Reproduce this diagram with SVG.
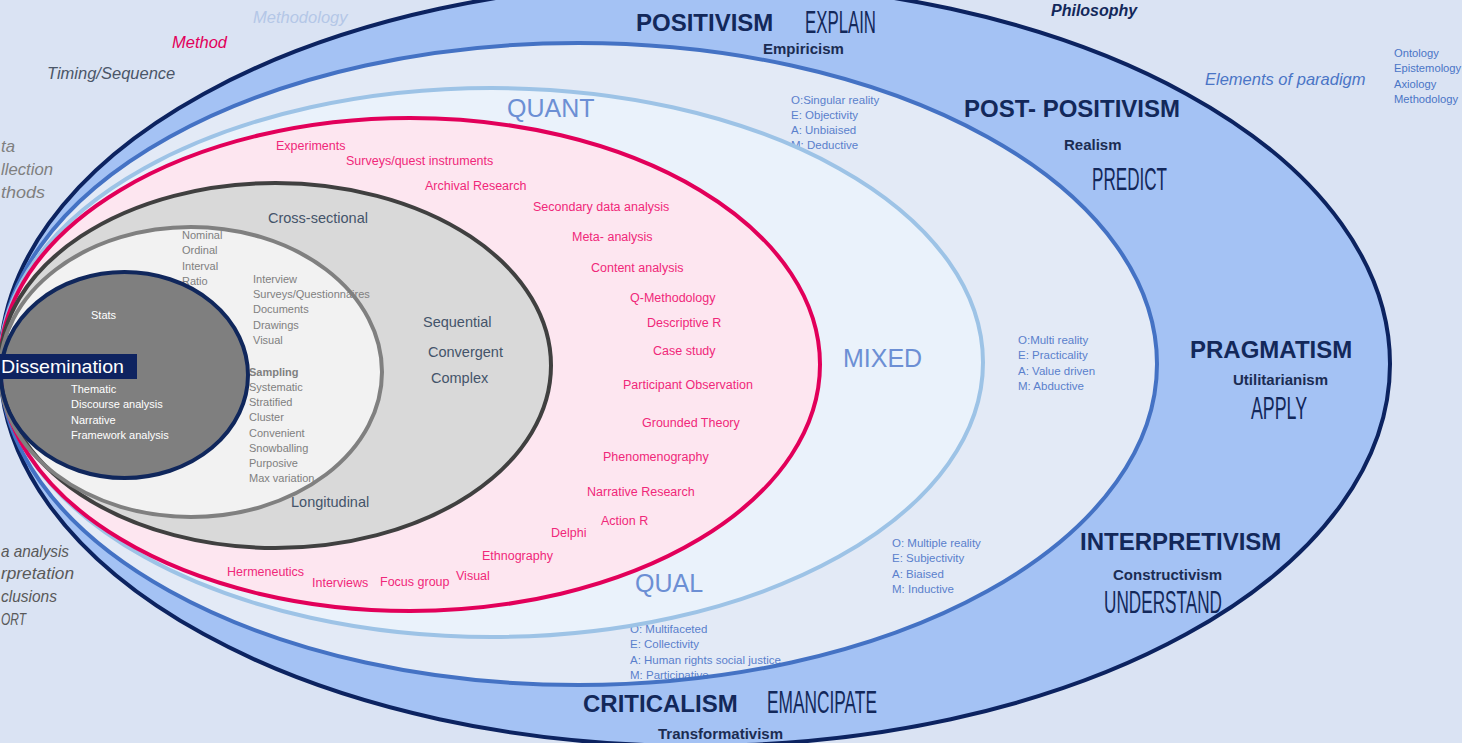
<svg xmlns="http://www.w3.org/2000/svg" width="1462" height="743" viewBox="0 0 1462 743">
  <style>
    text { font-family: "Liberation Sans", Arial, sans-serif; }
    .para { font-size: 24px; font-weight: bold; fill: #13285A; }
    .school { font-size: 15px; font-weight: bold; fill: #1B2C52; }
    .verb { font-family: "Liberation Sans Narrow", "Liberation Sans", sans-serif; font-size: 31px; fill: #13285A; }
    .oema { font-size: 11.5px; fill: #5A80CC; }
    .design { font-size: 25px; fill: #6C8FD4; }
    .method { font-size: 12.5px; fill: #F0287A; }
    .timing { font-size: 14.5px; fill: #44546A; }
    .collect { font-size: 11px; fill: #808080; }
    .analysis { font-size: 11px; fill: #FFFFFF; }
    .legend { font-style: italic; font-size: 16.5px; }
    .fill-none { fill: none; }
  </style>

  <!-- page background -->
  <rect x="0" y="0" width="1462" height="743" fill="#DAE3F3"/>

  <!-- Philosophy: paradigms band -->
  <g id="philosophy">
    <ellipse cx="695" cy="364" rx="695" ry="382" fill="#A4C2F4"/>
    <text class="para" x="636" y="31">POSITIVISM</text>
    <text class="verb" x="805" y="33" textLength="71" lengthAdjust="spacingAndGlyphs">EXPLAIN</text>
    <text class="school" x="763" y="54">Empiricism</text>

    <text class="para" x="964" y="117">POST- POSITIVISM</text>
    <text class="school" x="1064" y="150">Realism</text>
    <text class="verb" x="1092" y="190" textLength="75" lengthAdjust="spacingAndGlyphs">PREDICT</text>

    <text class="para" x="1190" y="358">PRAGMATISM</text>
    <text class="school" x="1233" y="385">Utilitarianism</text>
    <text class="verb" x="1251" y="419" textLength="56" lengthAdjust="spacingAndGlyphs">APPLY</text>

    <text class="para" x="1080" y="550">INTERPRETIVISM</text>
    <text class="school" x="1113" y="580">Constructivism</text>
    <text class="verb" x="1104" y="613" textLength="118" lengthAdjust="spacingAndGlyphs">UNDERSTAND</text>

    <text class="para" x="583" y="712">CRITICALISM</text>
    <text class="verb" x="767" y="713" textLength="110" lengthAdjust="spacingAndGlyphs">EMANCIPATE</text>
    <text class="school" x="658" y="739">Transformativism</text>
  </g>

  <!-- Elements of paradigm: ontology / epistemology / axiology / methodology -->
  <g id="elements">
    <ellipse cx="578.5" cy="364" rx="578.5" ry="321" fill="#E3EAF6"/>
    <text class="oema" x="791" y="104">O:Singular reality<tspan x="791" dy="15">E: Objectivity</tspan><tspan x="791" dy="15">A: Unbiaised</tspan><tspan x="791" dy="15">M: Deductive</tspan></text>
    <text class="oema" x="1018" y="344">O:Multi reality<tspan x="1018" dy="15.3">E: Practicality</tspan><tspan x="1018" dy="15.3">A: Value driven</tspan><tspan x="1018" dy="15.3">M: Abductive</tspan></text>
    <text class="oema" x="892" y="547">O: Multiple reality<tspan x="892" dy="15.3">E: Subjectivity</tspan><tspan x="892" dy="15.3">A: Biaised</tspan><tspan x="892" dy="15.3">M: Inductive</tspan></text>
    <text class="oema" x="630" y="633">O: Multifaceted<tspan x="630" dy="15.3">E: Collectivity</tspan><tspan x="630" dy="15.3">A: Human rights social justice</tspan><tspan x="630" dy="15.3">M: Participative</tspan></text>
  </g>

  <!-- Methodology: quant / mixed / qual -->
  <g id="methodology">
    <ellipse cx="491.5" cy="362.5" rx="491.5" ry="274.5" fill="#EAF2FB"/>
    <text class="design" x="507" y="117">QUANT</text>
    <text class="design" x="843" y="367">MIXED</text>
    <text class="design" x="635" y="592">QUAL</text>
  </g>

  <!-- Methods -->
  <g id="methods">
    <ellipse cx="410" cy="364.5" rx="410" ry="246.5" fill="#FDE6F0"/>
    <text class="method" x="276" y="150">Experiments</text>
    <text class="method" x="346" y="165">Surveys/quest instruments</text>
    <text class="method" x="425" y="190">Archival Research</text>
    <text class="method" x="533" y="211">Secondary data analysis</text>
    <text class="method" x="572" y="241">Meta- analysis</text>
    <text class="method" x="591" y="272">Content analysis</text>
    <text class="method" x="630" y="302">Q-Methodology</text>
    <text class="method" x="647" y="327">Descriptive R</text>
    <text class="method" x="653" y="355">Case study</text>
    <text class="method" x="623" y="389">Participant Observation</text>
    <text class="method" x="642" y="427">Grounded Theory</text>
    <text class="method" x="603" y="461">Phenomenography</text>
    <text class="method" x="587" y="496">Narrative Research</text>
    <text class="method" x="601" y="525">Action R</text>
    <text class="method" x="551" y="537">Delphi</text>
    <text class="method" x="482" y="560">Ethnography</text>
    <text class="method" x="456" y="580">Visual</text>
    <text class="method" x="380" y="586">Focus group</text>
    <text class="method" x="312" y="587">Interviews</text>
    <text class="method" x="227" y="576">Hermeneutics</text>
  </g>

  <!-- Timing / sequence -->
  <g id="timing">
    <ellipse cx="275.5" cy="365.5" rx="275.5" ry="182.5" fill="#D9D9D9"/>
    <text class="timing" x="268" y="223">Cross-sectional</text>
    <text class="timing" x="423" y="327">Sequential</text>
    <text class="timing" x="428" y="357">Convergent</text>
    <text class="timing" x="431" y="383">Complex</text>
    <text class="timing" x="291" y="507">Longitudinal</text>
  </g>

  <!-- Data collection -->
  <g id="collection">
    <ellipse cx="191" cy="372" rx="191" ry="145" fill="#F2F2F2"/>
    <text class="collect" x="182" y="239">Nominal<tspan x="182" dy="15.3">Ordinal</tspan><tspan x="182" dy="15.3">Interval</tspan><tspan x="182" dy="15.3">Ratio</tspan></text>
    <text class="collect" x="253" y="283">Interview<tspan x="253" dy="15.2">Surveys/Questionnaires</tspan><tspan x="253" dy="15.2">Documents</tspan><tspan x="253" dy="15.2">Drawings</tspan><tspan x="253" dy="15.2">Visual</tspan></text>
    <text class="collect" x="249" y="376" font-weight="bold">Sampling</text>
    <text class="collect" x="249" y="391">Systematic<tspan x="249" dy="15.2">Stratified</tspan><tspan x="249" dy="15.2">Cluster</tspan><tspan x="249" dy="15.2">Convenient</tspan><tspan x="249" dy="15.2">Snowballing</tspan><tspan x="249" dy="15.2">Purposive</tspan><tspan x="249" dy="15.2">Max variation</tspan></text>
  </g>

  <!-- Data analysis -->
  <g id="analysis">
    <ellipse cx="124.5" cy="375" rx="123.5" ry="103" fill="#7F7F7F"/>
    <text class="analysis" x="91" y="319">Stats</text>
    <text class="analysis" x="71" y="393">Thematic<tspan x="71" dy="15.3">Discourse analysis</tspan><tspan x="71" dy="15.3">Narrative</tspan><tspan x="71" dy="15.3">Framework analysis</tspan></text>
  </g>

  <!-- ring outlines, drawn over the fills and labels -->
  <g id="outlines" class="fill-none" stroke-width="4">
    <ellipse cx="695" cy="364" rx="695" ry="382" stroke="#0C2360"/>
    <ellipse cx="578.5" cy="364" rx="578.5" ry="321" stroke="#4472C4"/>
    <ellipse cx="491.5" cy="362.5" rx="491.5" ry="274.5" stroke="#9DC3E6"/>
    <ellipse cx="410" cy="364.5" rx="410" ry="246.5" stroke="#E2005A"/>
    <ellipse cx="275.5" cy="365.5" rx="275.5" ry="182.5" stroke="#404040"/>
    <ellipse cx="191" cy="372" rx="191" ry="145" stroke="#808080"/>
    <ellipse cx="124.5" cy="375" rx="123.5" ry="103" stroke="#10275C"/>
  </g>

  <!-- dissemination tag -->
  <g id="dissemination">
    <rect x="0" y="354" width="137" height="25" fill="#0E2360"/>
    <text x="1" y="373" font-size="19" fill="#FFFFFF" textLength="123" lengthAdjust="spacingAndGlyphs">Dissemination</text>
  </g>

  <!-- layer captions around the rings -->
  <g id="captions">
    <text class="legend" x="253" y="23" font-size="18" fill="#B4C7E7">Methodology</text>
    <text class="legend" x="172" y="48" font-size="18" fill="#E2005A">Method</text>
    <text class="legend" x="47" y="79" fill="#4B5668">Timing/Sequence</text>
    <text class="legend" fill="#7F7F7F">
      <tspan x="1" y="152" textLength="14" lengthAdjust="spacingAndGlyphs">ta</tspan>
      <tspan x="1" y="175" textLength="52" lengthAdjust="spacingAndGlyphs">llection</tspan>
      <tspan x="1" y="198" textLength="44" lengthAdjust="spacingAndGlyphs">thods</tspan>
    </text>
    <text class="legend" fill="#595959">
      <tspan x="1" y="557" textLength="68" lengthAdjust="spacingAndGlyphs">a analysis</tspan>
      <tspan x="1" y="579" textLength="73" lengthAdjust="spacingAndGlyphs">rpretation</tspan>
      <tspan x="1" y="602" textLength="56" lengthAdjust="spacingAndGlyphs">clusions</tspan>
      <tspan x="1" y="625" textLength="25" lengthAdjust="spacingAndGlyphs">ORT</tspan>
    </text>
    <text x="1051" y="16" font-size="16" font-weight="bold" font-style="italic" fill="#13285A">Philosophy</text>
    <text class="legend" x="1205" y="85" font-size="17" fill="#4A75C6">Elements of paradigm</text>
    <text x="1394" y="57" font-size="11.2" fill="#4A75C6">Ontology<tspan x="1394" dy="15.3">Epistemology</tspan><tspan x="1394" dy="15.3">Axiology</tspan><tspan x="1394" dy="15.3">Methodology</tspan></text>
  </g>
</svg>
